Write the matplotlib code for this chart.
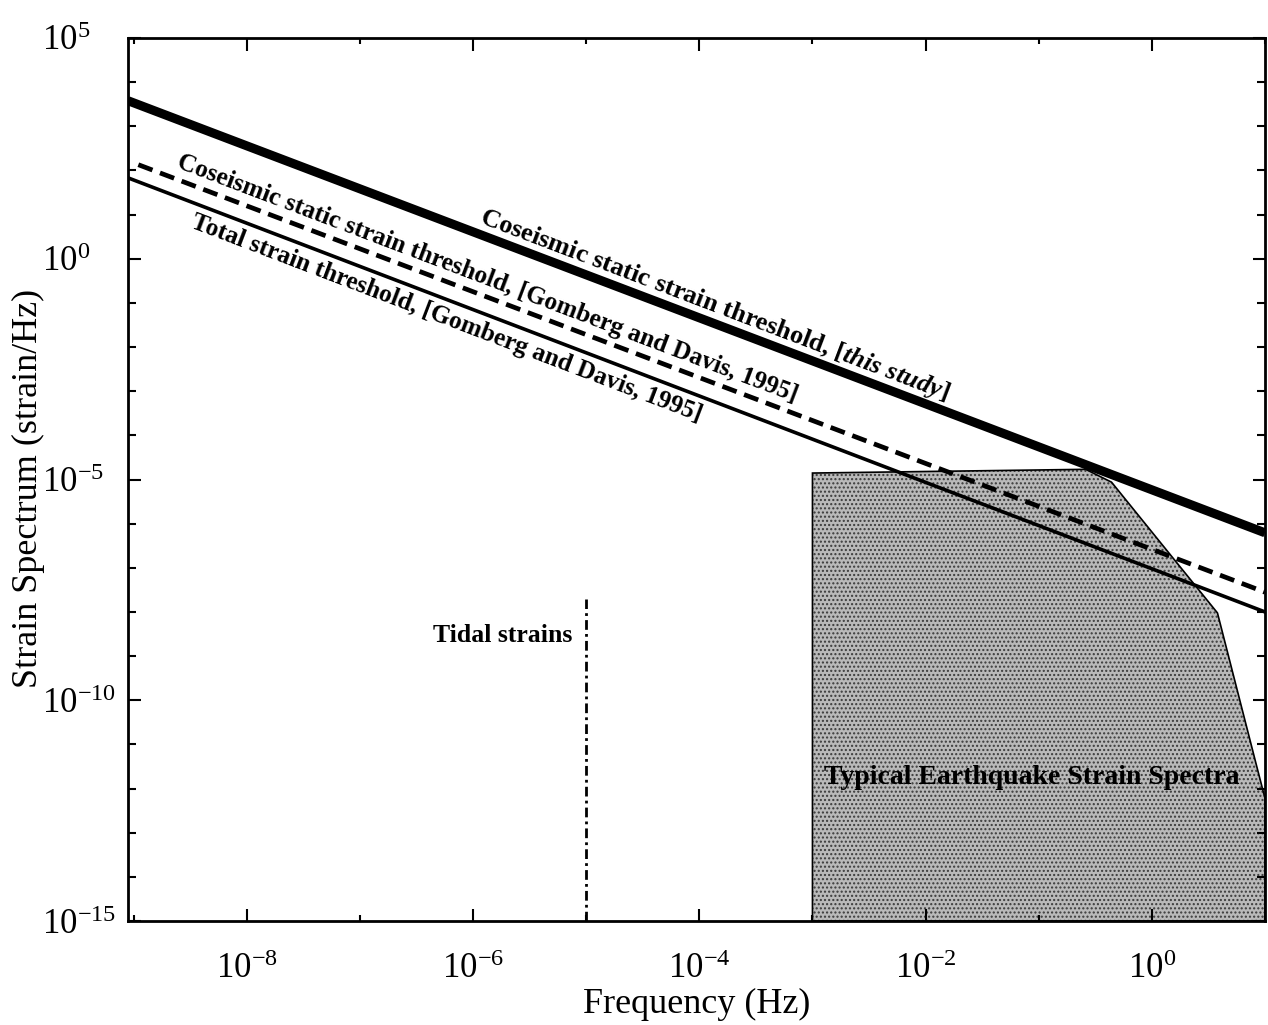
import numpy as np
import matplotlib
matplotlib.use("Agg")
import matplotlib.pyplot as plt
from matplotlib.ticker import FixedLocator, LogLocator, NullFormatter, LogFormatterSciNotation

plt.rcParams['font.family'] = ['Liberation Serif', 'DejaVu Serif']
plt.rcParams['mathtext.fontset'] = 'custom'
plt.rcParams['mathtext.rm'] = 'Liberation Serif'
plt.rcParams['mathtext.it'] = 'Liberation Serif:italic:bold'
plt.rcParams['mathtext.bf'] = 'Liberation Serif:bold'
plt.rcParams['hatch.linewidth'] = 1.0

# threshold lines (end points)
this_study_f = [10**-9.05, 1e1]
this_study_s = [3.8e3, 6.2e-7]
gd_static_f = [1.1e-9, 1e1]
gd_static_s = [1.35e2, 2.8e-8]
gd_total_f = [10**-9.05, 1e1]
gd_total_s = [68.0, 1.0e-8]

# tidal strains
tidal_f = [1e-5, 1e-5]
tidal_s = [1e-15, 2e-8]

# typical earthquake strain spectra (polygon outline)
eq_f = [1e-3, 1e-3, 0.26, 0.44, 3.8, 8.5, 10.0, 10.0]
eq_s = [1e-15, 1.4e-5, 1.7e-5, 8.7e-6, 9.5e-9, 3e-12, 6e-13, 1e-15]

xticks = [1e-8, 1e-6, 1e-4, 1e-2, 1e0]
yticks = [1e-15, 1e-10, 1e-5, 1e0, 1e5]

fig = plt.figure(figsize=(12.68, 10.25), dpi=100)
ax = fig.add_axes([128/1268, 1-921/1025, (1265-128)/1268, (921-38)/1025])
ax.set_xscale('log')
ax.set_yscale('log')
ax.set_xlim(10**-9.05, 1e1)
ax.set_ylim(1e-15, 1e5)

# stippled grey area
ax.fill(eq_f, eq_s, facecolor='#b9b9b9', edgecolor='#3a3a3a', hatch='....', linewidth=0, zorder=1)
ax.fill(eq_f, eq_s, facecolor='none', edgecolor='black', linewidth=1.2, zorder=1.5)

ax.plot(this_study_f, this_study_s, color='black', lw=6.5, solid_capstyle='butt', zorder=3)
ax.plot(gd_static_f, gd_static_s, color='black', lw=3.4, dashes=(3.2, 1.7), zorder=3)
ax.plot(gd_total_f, gd_total_s, color='black', lw=2.6, zorder=3)
ax.plot(tidal_f, tidal_s, color='black', lw=2, dashes=(3.5, 1.5, 1, 1.5), zorder=3)

def angle_of(fx, sy):
    p = ax.transData.transform(np.column_stack([fx, sy]))
    return np.degrees(np.arctan2(p[1, 1] - p[0, 1], p[1, 0] - p[0, 0]))

lab_kw = dict(ha='center', va='center', rotation_mode='anchor', fontweight='bold', zorder=4)
ax.text(10**-3.87, 10**-1.05, r"Coseismic static strain threshold, [$\mathit{this\ study}$]",
        rotation=angle_of(this_study_f, this_study_s), fontsize=19, **lab_kw)
ax.text(10**-5.875, 10**-0.44, "Coseismic static strain threshold, [Gomberg and Davis, 1995]",
        rotation=angle_of(gd_static_f, gd_static_s), fontsize=18.3, **lab_kw)
ax.text(10**-6.236, 10**-1.34, "Total strain threshold, [Gomberg and Davis, 1995]",
        rotation=angle_of(gd_total_f, gd_total_s), fontsize=18.3, **lab_kw)

ax.annotate("Tidal strains", xy=(1e-5, 10**-8.54), xytext=(-10, 0), textcoords='offset points',
            ha='right', va='center', fontsize=18.5, fontweight='bold')
ax.text(10**-1.06, 10**-11.75, "Typical Earthquake Strain Spectra", ha='center', va='center',
        fontsize=20, fontweight='bold', zorder=4)

ax.xaxis.set_major_locator(FixedLocator(xticks))
ax.yaxis.set_major_locator(FixedLocator(yticks))
ax.xaxis.set_major_formatter(LogFormatterSciNotation())
ax.yaxis.set_major_formatter(LogFormatterSciNotation())
ax.xaxis.set_minor_locator(LogLocator(base=10, subs=(1.0,), numticks=40))
ax.yaxis.set_minor_locator(LogLocator(base=10, subs=(1.0,), numticks=40))
ax.xaxis.set_minor_formatter(NullFormatter())
ax.yaxis.set_minor_formatter(NullFormatter())

ax.tick_params(which='both', direction='in', top=True, right=True, width=1.5)
ax.tick_params(axis='x', which='major', length=9, labelsize=25, pad=23)
ax.tick_params(axis='x', which='minor', length=4)
ax.tick_params(axis='y', which='major', length=9, labelsize=25, pad=62)
ax.tick_params(axis='y', which='minor', length=6)
for lbl in ax.get_yticklabels():
    lbl.set_horizontalalignment('left')
for sp in ax.spines.values():
    sp.set_linewidth(2)

ax.set_xlabel("Frequency (Hz)", fontsize=26, va='center')
ax.xaxis.set_label_coords(0.5, (921 - 1004) / 883)
ax.set_ylabel("Strain Spectrum (strain/Hz)", fontsize=26, va='center')
ax.yaxis.set_label_coords((28 - 128) / 1137, (921 - 488) / 883)

fig.savefig("out.png", dpi=100)
